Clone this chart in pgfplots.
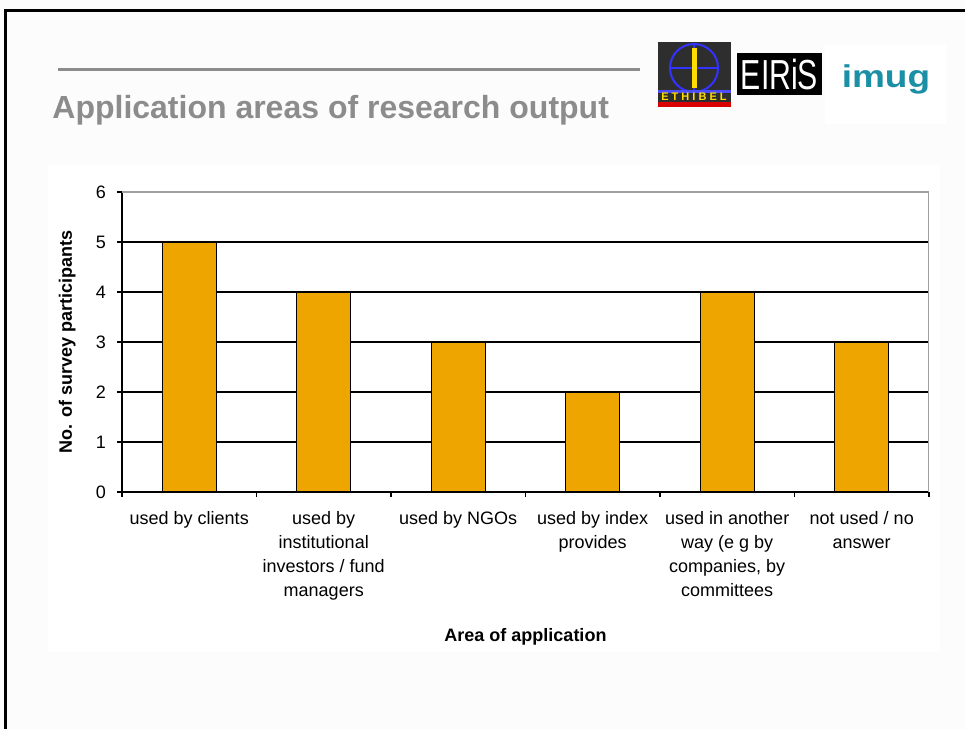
\documentclass[border=0pt]{standalone}
\usepackage{pgfplots}
\pgfplotsset{compat=1.18}
\usepackage{fontspec}
\setmainfont{Liberation Sans}
\definecolor{barorange}{RGB}{238,165,0}
\definecolor{titlegray}{RGB}{140,140,140}
\definecolor{imugteal}{RGB}{27,143,166}
\definecolor{slidebg}{RGB}{252,252,252}
\definecolor{borderg}{RGB}{160,160,160}
\begin{document}
\begin{tikzpicture}[x=0.5pt,y=0.5pt]
\useasboundingbox (0,0) rectangle (965,729);
\fill[slidebg] (0,0) rectangle (965,729);
\fill[white] (48,77) rectangle (940,564);
% slide border
\draw[black, line width=1.5pt] (5,0) -- (5,718) -- (965,718);
% gray rule and title
\draw[titlegray, line width=1.5pt] (58,659) -- (640,659);
\node[anchor=base west, inner sep=0pt, text=titlegray, font=\fontsize{16}{18}\selectfont\bfseries] at (52,610) {Application areas of research output};
% ETHIBEL logo (approximation)
\fill[black!82] (658,622) rectangle (731,687);
\draw[blue!80, line width=1pt] (694,661) circle (24);
\draw[blue!80, line width=0.6pt] (670,661) -- (718,661) (694,685) -- (694,637);
\fill[yellow!80!orange] (692,641) rectangle (697,681);
\fill[blue!70] (658,636) rectangle (731,639);
\fill[red!85!black] (658,622) rectangle (731,627);
\node[text=yellow!80!orange, font=\fontsize{5.5}{6}\selectfont\bfseries, inner sep=0pt] at (694,632) {E T H I B E L};
% EIRiS logo
\fill[black] (737,634) rectangle (822,676);
\node[text=white, font=\fontsize{21}{22}\selectfont, xscale=0.72, inner sep=0pt] at (779.5,654.5) {EIRiS};
% imug logo
\fill[white] (825,605) rectangle (946,684);
\node[text=imugteal, font=\fontsize{18.5}{20}\selectfont\bfseries, yscale=0.85, inner sep=0pt, anchor=base] at (886,641) {imug};
\begin{axis}[
  at={(61pt,118.5pt)}, anchor=south west,
  scale only axis, width=403.5pt, height=150pt,
  xmin=-0.5, xmax=5.5, ymin=0, ymax=6,
  ybar, bar width=27pt,
  axis x line=bottom, axis y line=left,
  axis line style={-, black, line width=0.8pt},
  tick align=outside, major tick length=2.5pt,
  tick style={black, line width=0.8pt},
  xtick={-0.5,0.5,...,5.5}, xticklabels={},
  extra x ticks={0,1,2,3,4,5},
  extra x tick style={major tick length=0pt, tick style={draw=none}},
  extra x tick labels={used by clients, {used by\\institutional\\investors / fund\\managers}, used by NGOs, {used by index\\provides}, {used in another\\way (e g by\\companies, by\\committees}, {not used / no\\answer}},
  xticklabel style={align=center, anchor=north, font=\fontsize{9}{12}\selectfont, yshift=-6pt},
  ytick={0,...,6},
  yticklabel style={font=\fontsize{9}{11}\selectfont, /pgf/number format/assume math mode=true, xshift=-2pt},
  ymajorgrids, grid style={black, line width=0.6pt},
  ylabel={No. of survey participants},
  ylabel style={font=\fontsize{9}{11}\selectfont\bfseries, at={(axis description cs:-0.068,0.5)}, anchor=center, rotate=0},
  xlabel={Area of application},
  xlabel style={font=\fontsize{9}{11}\selectfont\bfseries, at={(axis description cs:0.5,-0.483)}, anchor=center},
]
\addplot[fill=barorange, draw=black, line width=0.6pt] coordinates {(0,5) (1,4) (2,3) (3,2) (4,4) (5,3)};
\draw[borderg, line width=1pt] (rel axis cs:0,1) -- (rel axis cs:1,1) -- (rel axis cs:1,0);
\end{axis}
\end{tikzpicture}
\end{document}
